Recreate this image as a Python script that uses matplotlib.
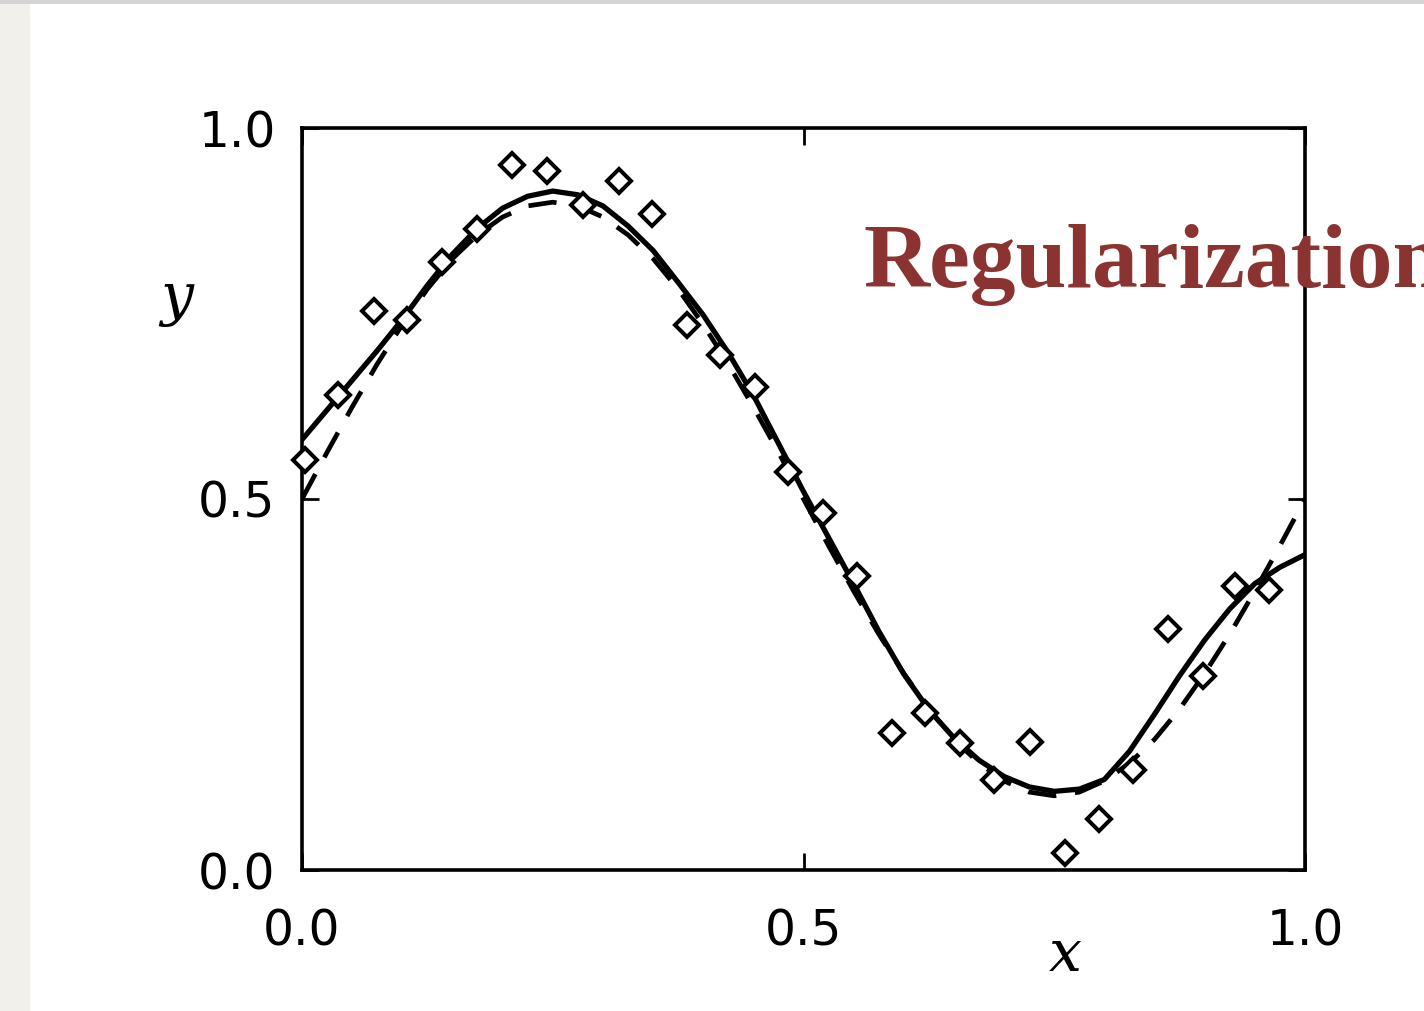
import numpy as np
import matplotlib.pyplot as plt
from matplotlib.patches import Rectangle

# noisy observations (diamonds)
obs_x = [0.003, 0.036, 0.072, 0.105, 0.140, 0.174, 0.209, 0.244, 0.280, 0.316,
         0.349, 0.384, 0.417, 0.452, 0.485, 0.519, 0.553, 0.588, 0.621, 0.656,
         0.690, 0.726, 0.761, 0.795, 0.829, 0.863, 0.898, 0.930, 0.964]
obs_y = [0.553, 0.640, 0.753, 0.741, 0.819, 0.864, 0.950, 0.942, 0.896, 0.929,
         0.884, 0.734, 0.694, 0.651, 0.536, 0.481, 0.396, 0.185, 0.212, 0.171,
         0.121, 0.173, 0.023, 0.069, 0.135, 0.325, 0.261, 0.383, 0.377]

# curves at steps of 0.025
curve_x = [0.0, 0.025, 0.05, 0.075, 0.10, 0.125, 0.15, 0.175, 0.20, 0.225,
           0.25, 0.275, 0.30, 0.325, 0.35, 0.375, 0.40, 0.425, 0.45, 0.475,
           0.50, 0.525, 0.55, 0.575, 0.60, 0.625, 0.65, 0.675, 0.70, 0.725,
           0.75, 0.775, 0.80, 0.825, 0.85, 0.875, 0.90, 0.925, 0.95, 0.975, 1.0]

# regularized fit (solid)
fit_y = [0.580, 0.620, 0.660, 0.700, 0.742, 0.788, 0.830, 0.865, 0.892, 0.908,
         0.915, 0.910, 0.895, 0.868, 0.835, 0.792, 0.748, 0.697, 0.640, 0.575,
         0.510, 0.448, 0.386, 0.322, 0.264, 0.216, 0.178, 0.148, 0.126, 0.112,
         0.106, 0.109, 0.122, 0.160, 0.210, 0.262, 0.310, 0.352, 0.386, 0.408, 0.425]

# true function (dashed)
true_y = [0.500, 0.563, 0.624, 0.682, 0.735, 0.783, 0.824, 0.856, 0.880, 0.895,
          0.900, 0.895, 0.880, 0.856, 0.824, 0.783, 0.735, 0.682, 0.624, 0.563,
          0.500, 0.437, 0.376, 0.318, 0.265, 0.217, 0.176, 0.144, 0.120, 0.105,
          0.100, 0.105, 0.120, 0.144, 0.176, 0.217, 0.265, 0.318, 0.376, 0.437, 0.500]

ticks = [0.0, 0.5, 1.0]
tick_labels = ["0.0", "0.5", "1.0"]

fig = plt.figure(figsize=(14.24, 10.11), dpi=100)
fig.patch.set_facecolor("white")
# slide background: grey strip on the left and thin line on top
fig.patches.append(Rectangle((0, 0), 30 / 1424, 1, transform=fig.transFigure,
                             facecolor="#f2f0eb", edgecolor="none", zorder=0))
fig.patches.append(Rectangle((0, 1 - 4 / 1011), 1, 4 / 1011, transform=fig.transFigure,
                             facecolor="#d4d4d4", edgecolor="none", zorder=0))

ax = fig.add_axes([302 / 1424, 1 - 870 / 1011, 1003 / 1424, 742 / 1011])
ax.set_xlim(0, 1)
ax.set_ylim(0, 1)

ax.plot(curve_x, true_y, color="black", lw=3.4, ls=(0, (6, 4)), zorder=2)
ax.plot(curve_x, fit_y, color="black", lw=3.8, zorder=3)
ax.plot(obs_x, obs_y, ls="none", marker="D", ms=12, mfc="white", mec="black",
        mew=2.9, zorder=4, clip_on=False)

for s in ax.spines.values():
    s.set_linewidth(2.6)

ax.set_xticks(ticks)
ax.set_xticklabels(tick_labels)
ax.set_yticks(ticks)
ax.set_yticklabels(tick_labels)
ax.tick_params(direction="in", length=12, width=2, top=True, right=True,
               labelsize=35, pad=19)
ax.tick_params(axis="x", pad=27)

ax.text(-0.125, 0.77, "y", transform=ax.transAxes, fontsize=42, style="italic",
        family="DejaVu Serif", ha="center", va="center")
ax.text(0.761, -0.115, "x", transform=ax.transAxes, fontsize=42, style="italic",
        family="DejaVu Serif", ha="center", va="center")

fig.text(863 / 1424, 1 - 287 / 1011, "Regularization", fontsize=66,
         family="Liberation Serif", weight="bold", color="#8a3330",
         ha="left", va="baseline", zorder=10)

fig.savefig("out.png", dpi=100, facecolor=fig.get_facecolor())
